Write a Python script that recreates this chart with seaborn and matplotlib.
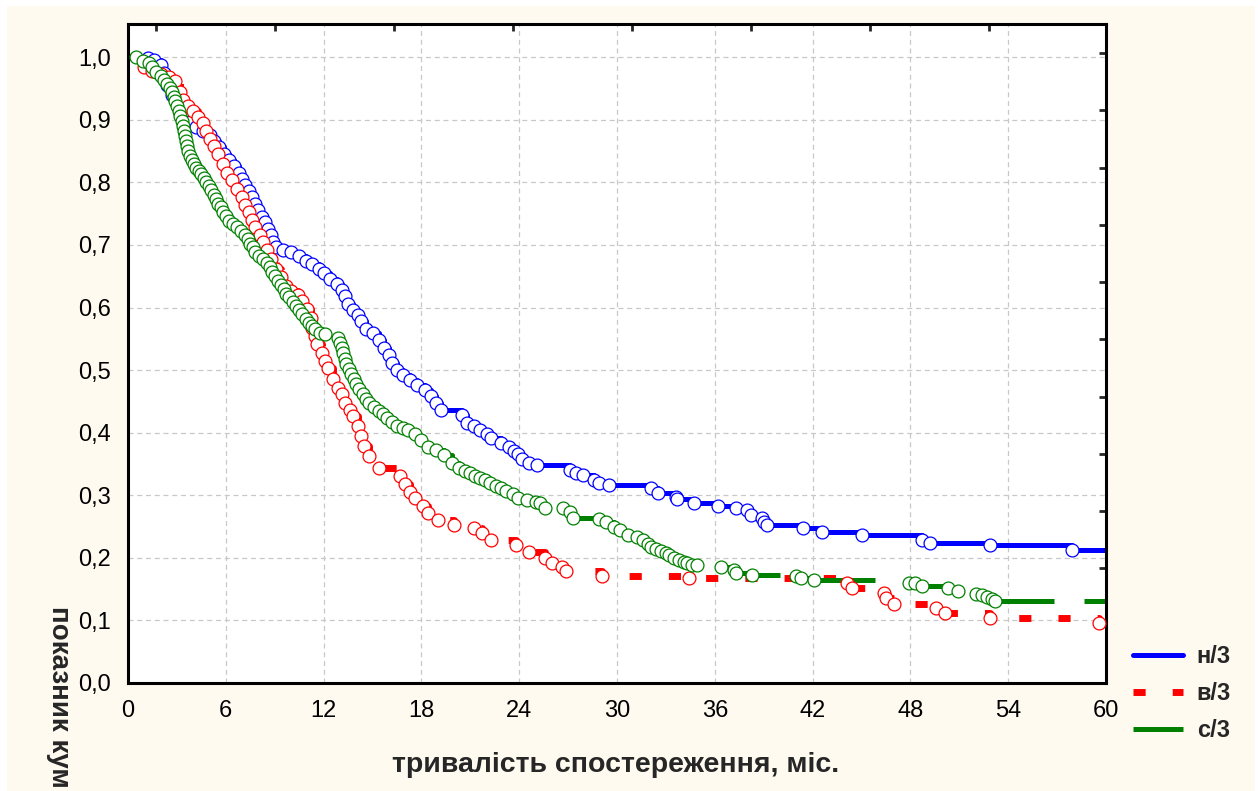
import matplotlib
matplotlib.use("Agg")
import matplotlib.pyplot as plt
from matplotlib.lines import Line2D
from matplotlib.patches import Rectangle
import seaborn as sns

# Kaplan-Meier style survival estimates, months vs cumulative proportion
blue_t = [1.2, 1.6, 2.0, 2.2, 2.4, 2.7, 3.1, 3.5, 3.8, 4.2, 4.6, 5.0, 5.3, 5.6, 5.9, 6.2,
          6.5, 6.8, 7.0, 7.2, 7.4, 7.6, 7.8, 8.0, 8.2, 8.4, 8.6, 8.8, 8.9, 9.1, 9.5, 10.0,
          10.5, 10.9, 11.3, 11.7, 12.0, 12.4, 12.8, 13.1, 13.3, 13.5, 13.8, 14.1, 14.3, 14.6,
          15.0, 15.4, 15.7, 16.0, 16.2, 16.5, 16.9, 17.3, 17.7, 18.2, 18.6, 18.9, 19.2, 20.5,
          20.8, 21.2, 21.6, 22.0, 22.3, 22.9, 23.4, 23.7, 23.9, 24.2, 24.6, 25.1, 27.1, 27.5,
          27.9, 28.6, 28.9, 29.5, 32.1, 32.5, 33.6, 33.7, 34.7, 36.2, 37.3, 38.0, 38.2, 38.9,
          39.0, 39.2, 41.4, 42.6, 45.0, 48.7, 49.2, 52.9, 57.9]
blue_s = [0.998, 0.995, 0.988, 0.975, 0.955, 0.940, 0.925, 0.908, 0.896, 0.888, 0.882, 0.876,
          0.866, 0.856, 0.846, 0.836, 0.826, 0.815, 0.805, 0.796, 0.786, 0.776, 0.766, 0.756,
          0.745, 0.736, 0.726, 0.716, 0.705, 0.697, 0.692, 0.688, 0.682, 0.675, 0.669, 0.662,
          0.655, 0.646, 0.638, 0.628, 0.618, 0.606, 0.596, 0.588, 0.578, 0.566, 0.560, 0.548,
          0.536, 0.524, 0.512, 0.500, 0.492, 0.484, 0.476, 0.468, 0.458, 0.447, 0.437, 0.428,
          0.415, 0.410, 0.405, 0.398, 0.392, 0.383, 0.377, 0.371, 0.366, 0.358, 0.352, 0.348,
          0.341, 0.336, 0.332, 0.324, 0.319, 0.316, 0.312, 0.303, 0.298, 0.294, 0.287, 0.283,
          0.280, 0.276, 0.268, 0.263, 0.257, 0.252, 0.248, 0.241, 0.236, 0.228, 0.224, 0.220,
          0.212]

red_t = [1.0, 1.5, 2.0, 2.5, 2.9, 3.2, 3.4, 3.7, 4.0, 4.3, 4.6, 4.8, 5.0, 5.3, 5.5, 5.8,
         6.1, 6.4, 6.7, 7.0, 7.2, 7.4, 7.6, 7.8, 8.1, 8.3, 8.5, 8.8, 9.1, 9.4, 9.7, 10.0,
         10.4, 10.7, 11.0, 11.2, 11.3, 11.5, 11.6, 11.9, 12.1, 12.3, 12.6, 12.9, 13.1, 13.3,
         13.6, 13.8, 14.1, 14.3, 14.5, 14.8, 15.4, 16.7, 17.0, 17.3, 17.6, 18.1, 18.4, 19.0,
         20.0, 21.2, 21.7, 22.3, 23.8, 24.6, 25.6, 26.0, 26.6, 26.9, 29.1, 34.4, 44.1, 44.4,
         46.4, 46.5, 47.0, 49.6, 50.1, 52.9, 59.6]
red_s = [0.985, 0.978, 0.973, 0.968, 0.962, 0.945, 0.932, 0.922, 0.914, 0.905, 0.895, 0.882,
         0.870, 0.858, 0.845, 0.830, 0.815, 0.803, 0.790, 0.776, 0.764, 0.752, 0.740, 0.728,
         0.716, 0.704, 0.692, 0.678, 0.662, 0.648, 0.634, 0.626, 0.620, 0.610, 0.598, 0.584,
         0.568, 0.554, 0.542, 0.527, 0.515, 0.504, 0.486, 0.472, 0.462, 0.448, 0.436, 0.426,
         0.410, 0.394, 0.378, 0.362, 0.343, 0.330, 0.318, 0.305, 0.296, 0.283, 0.272, 0.260,
         0.252, 0.247, 0.239, 0.228, 0.220, 0.209, 0.200, 0.192, 0.185, 0.179, 0.171, 0.168,
         0.159, 0.152, 0.144, 0.136, 0.127, 0.120, 0.112, 0.104, 0.096]

green_t = [0.5, 0.9, 1.3, 1.5, 1.7, 2.0, 2.2, 2.4, 2.6, 2.7, 2.8, 2.9, 3.0, 3.1, 3.2, 3.3,
           3.4, 3.45, 3.5, 3.55, 3.6, 3.7, 3.8, 3.9, 4.05, 4.2, 4.35, 4.5, 4.65, 4.8, 4.95,
           5.1, 5.25, 5.4, 5.55, 5.7, 5.85, 6.0, 6.2, 6.45, 6.7, 6.95, 7.15, 7.35, 7.5, 7.65,
           7.8, 8.05, 8.3, 8.5, 8.7, 8.85, 9.0, 9.2, 9.4, 9.55, 9.7, 9.9, 10.1, 10.3, 10.5,
           10.7, 10.9, 11.1, 11.3, 11.5, 11.8, 12.1, 12.9, 13.0, 13.1, 13.2, 13.3, 13.4, 13.55,
           13.7, 13.85, 14.0, 14.2, 14.4, 14.6, 14.8, 15.1, 15.4, 15.65, 15.9, 16.2, 16.5,
           16.85, 17.2, 17.6, 18.0, 18.4, 18.9, 19.4, 19.9, 20.3, 20.7, 21.0, 21.3, 21.6, 21.9,
           22.2, 22.6, 22.9, 23.2, 23.6, 23.9, 24.5, 25.0, 25.3, 25.6, 26.7, 27.1, 27.3, 28.9,
           29.3, 29.8, 30.2, 30.7, 31.2, 31.6, 31.9, 32.1, 32.4, 32.7, 33.0, 33.2, 33.5, 33.8,
           34.1, 34.3, 34.6, 34.9, 36.4, 37.2, 37.3, 38.3, 41.0, 41.3, 42.1, 47.9, 48.3, 48.7,
           50.3, 50.9, 52.0, 52.4, 52.7, 53.0, 53.2]
green_s = [1.000, 0.994, 0.990, 0.985, 0.976, 0.970, 0.963, 0.957, 0.950, 0.944, 0.937, 0.930,
           0.922, 0.914, 0.906, 0.898, 0.890, 0.882, 0.874, 0.866, 0.858, 0.850, 0.842, 0.836,
           0.829, 0.823, 0.818, 0.813, 0.807, 0.801, 0.794, 0.787, 0.780, 0.773, 0.766, 0.760,
           0.753, 0.746, 0.739, 0.733, 0.728, 0.722, 0.716, 0.709, 0.702, 0.696, 0.689, 0.683,
           0.677, 0.671, 0.664, 0.657, 0.650, 0.643, 0.636, 0.629, 0.622, 0.616, 0.609, 0.602,
           0.596, 0.589, 0.582, 0.576, 0.570, 0.565, 0.560, 0.558, 0.552, 0.544, 0.535, 0.527,
           0.518, 0.510, 0.502, 0.494, 0.486, 0.478, 0.470, 0.462, 0.454, 0.447, 0.441, 0.435,
           0.430, 0.424, 0.417, 0.411, 0.408, 0.405, 0.398, 0.388, 0.377, 0.372, 0.364, 0.352,
           0.344, 0.339, 0.335, 0.331, 0.328, 0.324, 0.320, 0.315, 0.311, 0.306, 0.302, 0.296,
           0.292, 0.289, 0.287, 0.280, 0.279, 0.273, 0.264, 0.262, 0.257, 0.250, 0.244, 0.237,
           0.234, 0.228, 0.222, 0.217, 0.214, 0.211, 0.207, 0.204, 0.200, 0.197, 0.194, 0.191,
           0.189, 0.188, 0.185, 0.180, 0.175, 0.172, 0.171, 0.168, 0.164, 0.160, 0.159, 0.155,
           0.152, 0.147, 0.143, 0.140, 0.137, 0.134, 0.131]

group_labels = ["н/3", "в/3", "с/3"]
x_ticks = [0, 6, 12, 18, 24, 30, 36, 42, 48, 54, 60]
y_ticks = [0.0, 0.1, 0.2, 0.3, 0.4, 0.5, 0.6, 0.7, 0.8, 0.9, 1.0]
y_tick_labels = ["0,0", "0,1", "0,2", "0,3", "0,4", "0,5", "0,6", "0,7", "0,8", "0,9", "1,0"]
top_minor_ticks = [1.72, 9.02, 16.32, 23.62, 30.92, 38.22, 45.52, 52.82]
right_minor_ticks = [0.0915, 0.183, 0.2745, 0.366, 0.4575, 0.549, 0.6405, 0.732, 0.8235, 0.915, 1.0065]
x_label = "тривалість спостереження, міс."
y_label = "показник кум"

sns.set_style("white")
plt.rcParams["font.family"] = ["Liberation Sans", "DejaVu Sans"]

CREAM = "#fffaf0"
fig = plt.figure(figsize=(12.58, 7.91), dpi=100, facecolor="white")
fig.add_artist(Rectangle((7 / 1258, 0), 1248 / 1258, 1 - 6 / 791,
                         transform=fig.transFigure, facecolor=CREAM,
                         edgecolor="none", zorder=-10))
ax = fig.add_axes([128 / 1258, 1 - 683 / 791, (1106 - 128) / 1258, (683 - 24) / 791])
ax.set_zorder(1)
ax.set_facecolor("white")

series = [
    (blue_t, blue_s, "#0000ff", "-", 3.6),
    (red_t, red_s, "#ff0000", (0, (1.75, 3.9)), 5.0),
    (green_t, green_s, "#008000", (0, (14, 6)), 3.6),
]

handles = []
for (t, s, color, ls, lw), lab in zip(series, group_labels):
    tx = [0.0] + list(t) + [60.0]
    sy = [1.0] + list(s) + [s[-1]]
    sns.lineplot(x=tx, y=sy, ax=ax, sort=False, estimator=None, drawstyle="steps-post",
                 color=color, linestyle=ls, linewidth=lw, zorder=2, legend=False)
    handles.append(Line2D([], [], color=color, linestyle=ls, linewidth=lw, label=lab))

for (t, s, color, ls, lw) in series:
    sns.scatterplot(x=t, y=s, ax=ax, marker="o", s=86, facecolor="white",
                    edgecolor=color, linewidth=0.9, zorder=3, legend=False)

ax.set_xlim(0, 60)
ax.set_ylim(0, 1.053)
ax.set_xticks(x_ticks)
ax.set_xticklabels([str(v) for v in x_ticks])
ax.set_yticks(y_ticks)
ax.set_yticklabels(y_tick_labels)
ax.tick_params(axis="both", direction="in", length=5, width=2, labelsize=17,
               colors="black", pad=12)
ax.grid(True, color="#c8c8c8", linestyle=(0, (4, 3)), linewidth=0.9)
ax.set_axisbelow(True)
for sp in ax.spines.values():
    sp.set_color("black")
    sp.set_linewidth(2.2)

top = ax.secondary_xaxis("top")
top.set_xticks(top_minor_ticks)
top.set_xticklabels([])
top.tick_params(direction="in", length=5, width=2)
top.spines["top"].set_visible(False)
right = ax.secondary_yaxis("right")
right.set_yticks(right_minor_ticks)
right.set_yticklabels([])
right.tick_params(direction="in", length=5, width=2)
right.spines["right"].set_visible(False)

fig.text(616 / 1258, 1 - 765 / 791, x_label, ha="center", va="center",
         fontsize=20.5, fontweight="bold")
fig.text(59 / 1258, 1 - 606 / 791, y_label, ha="center", va="top", rotation=-90,
         fontsize=20, fontweight="bold")

leg = ax.legend(handles=handles, loc="upper left", bbox_to_anchor=(1133 / 1258, 1 - 645 / 791),
                bbox_transform=fig.transFigure, frameon=False, borderpad=0, borderaxespad=0,
                handlelength=2.1, handletextpad=0.6, labelspacing=0.6,
                prop={"size": 17, "weight": "bold"})

fig.savefig("out.png", dpi=100, facecolor=fig.get_facecolor())
